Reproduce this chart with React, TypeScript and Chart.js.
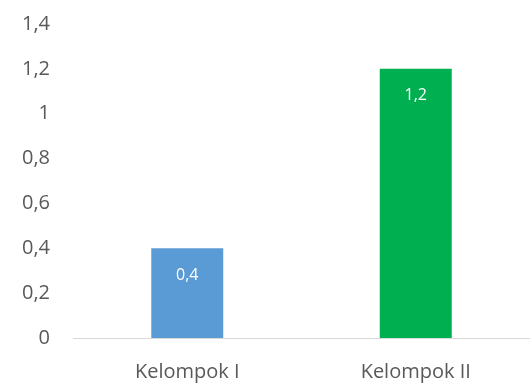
import React, { useEffect, useRef } from "react";
import { Chart, registerables } from "chart.js";

Chart.register(...registerables);

const categories = ["Kelompok I", "Kelompok II"];
const values = [0.4, 1.2];
const barColors = ["#5B9BD5", "#00B050"];
const yTicks = [0, 0.2, 0.4, 0.6, 0.8, 1, 1.2, 1.4];

const fmt = (v: number) => String(Math.round(v * 10) / 10).replace(".", ",");

const labelPlugin = {
  id: "barLabels",
  afterDatasetsDraw(chart: any) {
    const ctx = chart.ctx;
    const meta = chart.getDatasetMeta(0);
    ctx.save();
    ctx.fillStyle = "#ffffff";
    ctx.font = "16px 'Open Sans', sans-serif";
    ctx.textAlign = "center";
    ctx.textBaseline = "middle";
    meta.data.forEach((bar: any, i: number) => {
      ctx.fillText(fmt(values[i]), bar.x, bar.y + 27);
    });
    ctx.restore();
  },
};

export default function App() {
  const ref = useRef<HTMLCanvasElement>(null);
  useEffect(() => {
    document.body.style.margin = "0";
    const chart = new Chart(ref.current!, {
      type: "bar",
      data: {
        labels: categories,
        datasets: [
          {
            data: values,
            backgroundColor: barColors,
            categoryPercentage: 0.63,
            barPercentage: 0.5,
          },
        ],
      },
      options: {
        animation: false,
        responsive: false,
        layout: { padding: { top: 24, right: 0, bottom: 0, left: 0 } },
        plugins: { legend: { display: false }, tooltip: { enabled: false } },
        scales: {
          x: {
            afterFit: (scale: any) => {
              scale.height = 45;
            },
            grid: { display: false, drawTicks: false },
            border: { display: true, color: "#d9d9d9", width: 1 },
            ticks: {
              color: "#595959",
              font: { family: "'Open Sans', sans-serif", size: 20 },
              padding: 22,
              maxRotation: 0,
            },
          },
          y: {
            min: 0,
            max: 1.4,
            afterBuildTicks: (scale: any) => {
              scale.ticks = yTicks.map((v) => ({ value: v }));
            },
            afterFit: (scale: any) => {
              scale.width = 73;
              scale.paddingTop = 0;
              scale.paddingBottom = 0;
            },
            grid: { display: false, drawTicks: false },
            border: { display: false },
            ticks: {
              color: "#595959",
              font: { family: "'Open Sans', sans-serif", size: 20 },
              padding: 23,
              callback: (v: any) => fmt(Number(v)),
            },
          },
        },
      },
      plugins: [labelPlugin],
    });
    return () => chart.destroy();
  }, []);
  return <canvas ref={ref} width={530} height={383} />;
}
